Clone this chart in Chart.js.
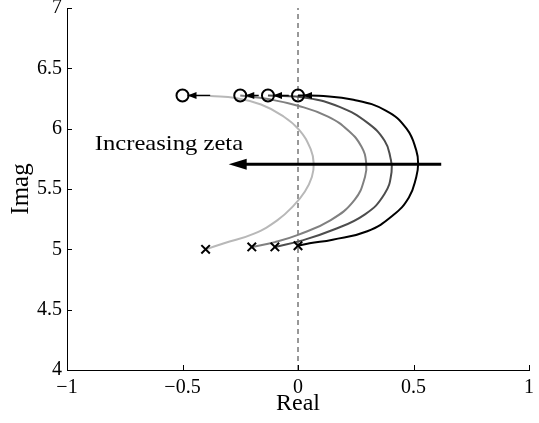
<!DOCTYPE html>
<html>
<head>
<meta charset="utf-8">
<script src="https://cdn.jsdelivr.net/npm/chart.js@4.4.1/dist/chart.umd.min.js"></script>
<style>
  html, body { margin: 0; padding: 0; background: #fff; }
  #wrap { width: 539px; height: 423px; }
</style>
</head>
<body>
<div id="wrap"><canvas id="locusChart" width="539" height="423"></canvas></div>
<script>
// tick labels
const xTickValues = [-1, -0.5, 0, 0.5, 1];
const xTickLabels = ['\u22121', '\u22120.5', '0', '0.5', '1'];
const yTickValues = [4, 4.5, 5, 5.5, 6, 6.5, 7];
const yTickLabels = ['4', '4.5', '5', '5.5', '6', '6.5', '7'];

// root locus branches, from the pole (x) to the zero (o)
const locusBlack = [
    [0, 5.03], [0.05, 5.05], [0.15, 5.08], [0.30, 5.15], [0.41, 5.28], [0.48, 5.43],
    [0.512, 5.60], [0.52, 5.71], [0.512, 5.82], [0.47, 6.0], [0.38, 6.15], [0.24, 6.24],
    [0.09, 6.272], [0, 6.275]
];
const locusDark = [
    [-0.1, 5.02], [0.01, 5.07], [0.15, 5.16], [0.29, 5.29], [0.375, 5.46], [0.405, 5.64],
    [0.40, 5.76], [0.375, 5.90], [0.30, 6.05], [0.18, 6.18], [0.04, 6.255], [-0.13, 6.275]
];
const locusMid = [
    [-0.2, 5.02], [-0.1, 5.06], [0, 5.12], [0.14, 5.24], [0.245, 5.41], [0.29, 5.60],
    [0.295, 5.72], [0.275, 5.85], [0.22, 5.98], [0.13, 6.10], [0.0, 6.19], [-0.13, 6.245],
    [-0.25, 6.275]
];
const locusLight = [
    [-0.4, 5.0], [-0.32, 5.05], [-0.19, 5.13], [-0.09, 5.24], [-0.02, 5.36], [0.03, 5.48],
    [0.06, 5.60], [0.068, 5.71], [0.055, 5.83], [0.005, 5.99], [-0.07, 6.11], [-0.16, 6.2],
    [-0.27, 6.255], [-0.38, 6.27]
];

// poles and zeros
const poleX = [0, -0.1, -0.2, -0.4];
const poleY = [5.03, 5.02, 5.02, 5.0];
const zeroX = [0, -0.13, -0.25, -0.5];
const zeroY = [6.275, 6.275, 6.275, 6.275];

// small arrows into each zero: shaft start x
const arrowStartX = [0.06, -0.04, -0.17, -0.38];

// annotation
const noteText = 'Increasing zeta';
const noteX = -0.88, noteY = 5.82;
const bigArrowY = 5.705, bigArrowFrom = 0.62, bigArrowTo = -0.30;

const toPts = arr => arr.map(p => ({ x: p[0], y: p[1] }));

const serif = '"Liberation Serif", "Times New Roman", serif';

function locusSet(name, pts, color) {
    return {
        label: name,
        data: toPts(pts),
        borderColor: color,
        borderWidth: 2,
        showLine: true,
        pointRadius: 0,
        tension: 0.45,
        fill: false
    };
}

const extrasPlugin = {
    id: 'extras',
    afterDatasetsDraw(chart) {
        const ctx = chart.ctx;
        const xs = chart.scales.x, ys = chart.scales.y;
        ctx.save();
        ctx.fillStyle = '#000';
        ctx.strokeStyle = '#000';

        // arrows into zeros
        zeroX.forEach((zx, i) => {
            const y = ys.getPixelForValue(zeroY[i]);
            const tip = xs.getPixelForValue(zx) + 5;
            const start = xs.getPixelForValue(arrowStartX[i]);
            ctx.lineWidth = 1.5;
            ctx.beginPath();
            ctx.moveTo(start, y);
            ctx.lineTo(tip, y);
            ctx.stroke();
            ctx.beginPath();
            ctx.moveTo(tip, y);
            ctx.lineTo(tip + 9, y - 3.5);
            ctx.lineTo(tip + 9, y + 3.5);
            ctx.closePath();
            ctx.fill();
        });

        // big arrow
        const ay = ys.getPixelForValue(bigArrowY);
        const a0 = xs.getPixelForValue(bigArrowFrom);
        const a1 = xs.getPixelForValue(bigArrowTo);
        ctx.lineWidth = 3;
        ctx.beginPath();
        ctx.moveTo(a0, ay);
        ctx.lineTo(a1 + 10, ay);
        ctx.stroke();
        ctx.beginPath();
        ctx.moveTo(a1, ay);
        ctx.lineTo(a1 + 18, ay - 5.5);
        ctx.lineTo(a1 + 18, ay + 5.5);
        ctx.closePath();
        ctx.fill();

        // text, slightly widened like the original figure
        const tx = xs.getPixelForValue(noteX), ty = ys.getPixelForValue(noteY);
        ctx.translate(tx, ty);
        ctx.scale(1.12, 1);
        ctx.font = '22px ' + serif;
        ctx.textAlign = 'left';
        ctx.textBaseline = 'alphabetic';
        ctx.fillText(noteText, 0, 0);
        ctx.restore();
    },
    afterDraw(chart) {
        // inward tick marks
        const ctx = chart.ctx;
        const xs = chart.scales.x, ys = chart.scales.y;
        const area = chart.chartArea;
        ctx.save();
        ctx.strokeStyle = '#000';
        ctx.lineWidth = 1;
        ctx.beginPath();
        xTickValues.forEach(v => {
            const px = Math.round(xs.getPixelForValue(v)) + 0.5;
            ctx.moveTo(px, area.bottom);
            ctx.lineTo(px, area.bottom - 5);
        });
        yTickValues.forEach(v => {
            const py = Math.round(ys.getPixelForValue(v)) + 0.5;
            ctx.moveTo(area.left, py);
            ctx.lineTo(area.left + 5, py);
        });
        ctx.stroke();
        ctx.restore();
    }
};

const locusCtx = document.getElementById('locusChart').getContext('2d');

new Chart(locusCtx, {
    type: 'line',
    data: {
        datasets: [
            {
                label: 'zeros',
                data: zeroX.map((x, i) => ({ x: x, y: zeroY[i] })),
                pointStyle: 'circle',
                pointRadius: 6,
                pointBackgroundColor: 'rgba(0,0,0,0)',
                pointBorderColor: '#000',
                pointBorderWidth: 2,
                showLine: false
            },
            {
                label: 'poles',
                data: poleX.map((x, i) => ({ x: x, y: poleY[i] })),
                pointStyle: 'crossRot',
                pointRadius: 6,
                pointBorderColor: '#000',
                pointBorderWidth: 2,
                showLine: false
            },
            locusSet('zeta 1', locusBlack, '#000000'),
            locusSet('zeta 2', locusDark, '#4d4d4d'),
            locusSet('zeta 3', locusMid, '#808080'),
            locusSet('zeta 4', locusLight, '#b8b8b8'),
            {
                label: 'imag axis',
                data: [{ x: 0, y: 4 }, { x: 0, y: 7 }],
                borderColor: '#333',
                borderWidth: 1,
                borderDash: [5, 4],
                showLine: true,
                pointRadius: 0,
                tension: 0
            }
        ]
    },
    options: {
        responsive: false,
        animation: false,
        devicePixelRatio: 1,
        layout: { padding: { left: 0, right: 10, top: 6, bottom: 0 } },
        plugins: {
            legend: { display: false },
            tooltip: { enabled: false }
        },
        scales: {
            x: {
                type: 'linear',
                min: -1,
                max: 1,
                grid: { display: false, drawTicks: false },
                border: { display: true, color: '#000', width: 1 },
                ticks: {
                    stepSize: 0.5,
                    color: '#000',
                    padding: 6,
                    font: { family: serif, size: 20 },
                    callback: v => {
                        const i = xTickValues.indexOf(v);
                        return i >= 0 ? xTickLabels[i] : '';
                    }
                },
                title: {
                    display: true,
                    text: 'Real',
                    color: '#000',
                    font: { family: serif, size: 24 },
                    padding: { top: 0, bottom: 5 }
                },
                afterFit: s => { s.height = 53; s.paddingLeft = 0; s.paddingRight = 0; }
            },
            y: {
                type: 'linear',
                min: 4,
                max: 7,
                grid: { display: false, drawTicks: false },
                border: { display: true, color: '#000', width: 1 },
                ticks: {
                    stepSize: 0.5,
                    color: '#000',
                    padding: 5,
                    font: { family: serif, size: 20 },
                    callback: v => {
                        const i = yTickValues.indexOf(v);
                        return i >= 0 ? yTickLabels[i] : '';
                    }
                },
                title: {
                    display: true,
                    text: 'Imag',
                    color: '#000',
                    font: { family: serif, size: 25 },
                    padding: { top: 6, bottom: 0 }
                },
                afterFit: s => { s.width = 67; s.paddingTop = 0; s.paddingBottom = 0; }
            }
        }
    },
    plugins: [extrasPlugin]
});
</script>
</body>
</html>
